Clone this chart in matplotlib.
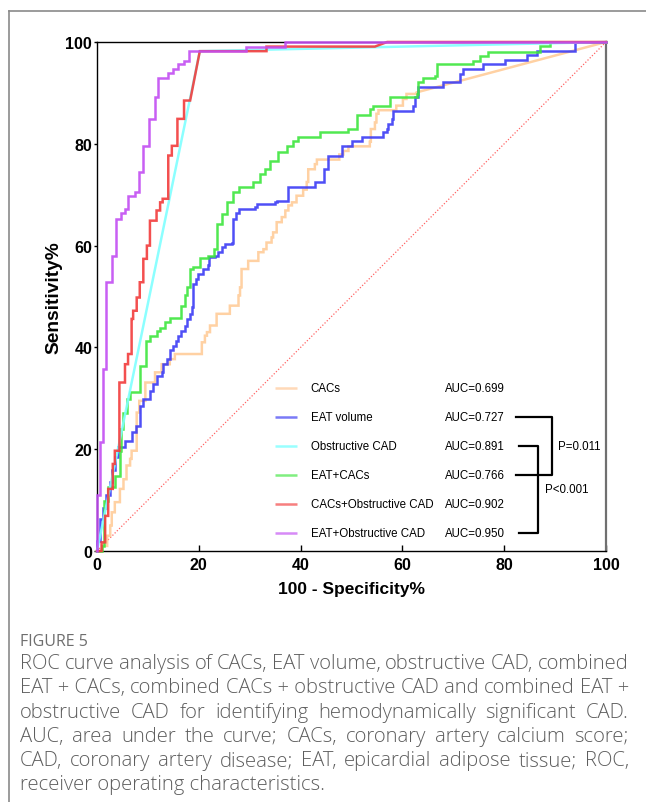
import matplotlib
matplotlib.use("Agg")
import matplotlib.pyplot as plt
from matplotlib.lines import Line2D

plt.rcParams['font.family'] = ['Liberation Sans', 'DejaVu Sans']

# ROC step points: (fpr, tpr) at the top of each vertical rise
cacs_fpr = [0, 1.0, 2.0, 2.6, 2.9, 3.5, 4.5, 5.2, 5.8, 6.5, 6.8, 7.8, 8.3, 9.5, 11.4, 12.7, 14.3, 15.3,
            20.6, 21.2, 21.6, 22.2, 23.5, 26.1, 27.8, 28.1, 28.4, 29.7, 31.7, 32.7, 33.3, 34.3, 34.6,
            35.3, 36.3, 37.0, 37.6, 38.3, 39.2, 40.5, 41.2, 41.5, 42.8, 43.2, 47.6, 48.4, 49.4, 53.6,
            53.8, 54.6, 54.9, 55.3, 58.8, 60.1, 60.8, 62.8]
cacs_tpr = [0, 1.0, 3.0, 5.0, 7.6, 9.6, 12.2, 14.1, 16.8, 18.1, 19.7, 27.2, 29.5, 33.1, 35.1, 36.7, 37.7, 38.7,
            41.0, 42.3, 43.0, 44.3, 46.6, 48.2, 50.2, 51.8, 55.4, 57.0, 58.7, 59.3, 60.6, 61.6, 62.6,
            64.6, 65.6, 66.9, 67.9, 68.5, 69.8, 71.0, 72.5, 75.0, 76.0, 76.9, 77.9, 78.6, 79.5, 80.4,
            82.9, 84.2, 85.9, 86.6, 87.5, 88.8, 89.8, 90.1]
cacs_tail_fpr = [100]
cacs_tail_tpr = [100]

eat_fpr = [0, 0, 0.6, 1.2, 1.8, 2.5, 3.0, 3.6, 4.2, 5.5, 6.8, 7.6, 8.4, 9.1, 10.4, 11.1, 11.7, 12.7, 13.0,
           13.7, 14.3, 15.0, 15.5, 16.0, 16.6, 17.3, 17.7, 18.3, 18.6, 18.9, 19.4, 19.9, 20.9, 21.9, 22.1,
           23.2, 23.8, 24.5, 25.1, 26.5, 26.8, 27.4, 27.8, 31.0, 31.4, 35.0, 35.3, 37.6, 42.8, 44.5, 45.4,
           48.1, 50.0, 52.0, 56.2, 56.9, 57.2, 57.9, 58.2, 62.1, 62.5, 63.1, 68.0, 71.3, 71.9, 75.9, 80.2,
           84.4, 86.4, 93.9, 100]
eat_tpr = [0, 2.0, 6.3, 8.5, 11.0, 13.5, 16.0, 18.5, 20.5, 21.7, 23.3, 24.6, 28.5, 29.9, 31.5, 32.8, 34.4,
           35.1, 36.7, 37.7, 39.4, 40.3, 41.3, 42.3, 43.3, 44.3, 45.6, 46.6, 47.9, 52.5, 53.4, 54.4, 55.4,
           56.1, 57.7, 58.0, 58.7, 59.7, 60.3, 60.6, 65.2, 66.5, 67.2, 67.5, 68.2, 68.5, 68.8, 71.5, 72.4,
           75.0, 77.7, 79.6, 80.6, 81.3, 82.3, 82.9, 83.9, 84.9, 86.5, 87.5, 89.1, 91.1, 92.1, 93.7, 94.7,
           95.7, 96.5, 97.4, 98.3, 100, 100]

obs_fpr = [0]
obs_tpr = [0]
obs_tail_fpr = [20.2, 100]
obs_tail_tpr = [98.2, 100]

eatcacs_fpr = [0, 0.9, 1.3, 2.2, 3.5, 4.5, 4.8, 5.2, 5.8, 6.5, 8.4, 9.6, 10.4, 11.7, 12.4, 13.4, 14.3, 16.6,
               17.2, 17.6, 18.3, 18.9, 20.2, 21.9, 22.9, 23.5, 24.5, 25.5, 26.8, 27.8, 30.7, 32.0, 33.0,
               34.0, 35.6, 37.3, 38.6, 39.5, 43.8, 49.4, 51.0, 53.6, 54.3, 57.6, 62.8, 63.1, 64.1, 66.4,
               66.8, 73.9, 75.2, 76.9, 87.0, 89.0, 100]
eatcacs_tpr = [0, 1.0, 9.9, 12.5, 14.8, 19.7, 24.0, 27.2, 29.9, 31.3, 36.4, 41.3, 42.3, 43.3, 43.9, 44.9, 45.7,
               48.2, 50.2, 51.8, 55.4, 55.7, 57.5, 58.0, 59.3, 64.2, 66.2, 68.5, 70.5, 71.5, 72.4, 74.1, 75.0,
               76.7, 78.3, 79.6, 80.6, 81.3, 82.3, 83.0, 85.7, 86.8, 87.5, 89.1, 89.8, 92.1, 92.9, 93.4,
               95.7, 96.3, 97.3, 98.1, 99.3, 100, 100]

cacsobs_fpr = [0, 0.9, 1.6, 2.2, 3.1, 3.5, 4.4, 5.5, 6.1, 6.8, 7.1, 7.8, 8.4, 9.1, 9.8, 10.4, 11.7, 12.4,
               12.9, 14.0, 14.7, 15.8, 17.1]
cacsobs_tpr = [0, 1.7, 6.9, 12.2, 17.1, 19.7, 33.1, 36.7, 38.7, 45.6, 47.2, 49.8, 52.8, 57.4, 60.0, 64.9,
               66.9, 68.5, 69.2, 77.7, 79.6, 84.9, 88.5]
cacsobs_tail_fpr = [18.3, 20.2, 33.3, 33.3, 54.6, 57.0, 100]
cacsobs_tail_tpr = [88.5, 98.2, 98.2, 99.1, 99.1, 100, 100]

eatobs_fpr = [0, 0, 0.6, 1.2, 1.8, 2.9, 3.7, 4.8, 5.5, 6.0, 7.5, 8.3, 9.1, 10.3, 11.4, 12.0, 14.0, 15.0,
              16.0, 17.0, 18.0, 29.3, 36.9, 100]
eatobs_tpr = [0, 11.0, 21.4, 35.8, 52.8, 58.0, 65.2, 66.5, 67.2, 69.8, 70.5, 74.4, 79.6, 84.9, 89.1, 92.9,
              94.0, 94.7, 95.7, 96.3, 98.2, 99.1, 100, 100]

names = ["CACs", "EAT volume", "Obstructive CAD", "EAT+CACs", "CACs+Obstructive CAD", "EAT+Obstructive CAD"]
aucs = [0.699, 0.727, 0.891, 0.766, 0.902, 0.950]
colors = ["#FFCC99", "#3C3CF5", "#80FFFF", "#3EE63E", "#F23C3C", "#C24DF2"]
legend_colors = ["#FFD9B8", "#7A7AF7", "#99FFFF", "#80EE80", "#F77F7F", "#D78AF7"]

caption_lines = [
    "ROC curve analysis of CACs, EAT volume, obstructive CAD, combined",
    "EAT\u00a0+\u00a0CACs, combined CACs\u00a0+\u00a0obstructive CAD and combined EAT\u00a0+",
    "obstructive CAD for identifying hemodynamically significant CAD.",
    "AUC, area under the curve; CACs, coronary artery calcium score;",
    "CAD, coronary artery disease; EAT, epicardial adipose tissue; ROC,",
    "receiver operating characteristics.",
]


def staircase(xs, ys):
    px, py = [xs[0]], [ys[0]]
    for x, y in zip(xs[1:], ys[1:]):
        px += [x, x]
        py += [py[-1], y]
    return px, py


fig = plt.figure(figsize=(6.46, 8.03), dpi=100)
W, H = 646, 803
ax = fig.add_axes([97 / W, 251 / H, 509 / W, 509 / H])

# chance line
ax.plot([0, 100], [0, 100], color="#FF6464", lw=0.9, ls=(0, (1, 1.5)), zorder=1)

curves = [
    (cacs_fpr, cacs_tpr, cacs_tail_fpr, cacs_tail_tpr),
    (eat_fpr, eat_tpr, [], []),
    (eatcacs_fpr, eatcacs_tpr, [], []),
    (obs_fpr, obs_tpr, obs_tail_fpr, obs_tail_tpr),
    (cacsobs_fpr, cacsobs_tpr, cacsobs_tail_fpr, cacsobs_tail_tpr),
    (eatobs_fpr, eatobs_tpr, [], []),
]
order = [0, 1, 3, 2, 4, 5]
for k, (fx, fy, tx, ty) in enumerate(curves):
    sx, sy = staircase(fx, fy)
    sx += tx
    sy += ty
    ax.plot(sx, sy, color=colors[order[k]], lw=1.8, alpha=0.9, clip_on=False,
            solid_joinstyle="miter", zorder=2 + k)

ax.set_xlim(0, 100)
ax.set_ylim(0, 100)
ticks = list(range(0, 101, 20))
ax.set_xticks(ticks)
ax.set_yticks(ticks)
ax.set_xticklabels([str(t) for t in ticks], fontweight="bold", fontsize=11.5)
ax.set_yticklabels([str(t) for t in ticks], fontweight="bold", fontsize=11.5)
ax.tick_params(axis="x", direction="in", length=4.5, width=1, pad=4)
ax.tick_params(axis="y", direction="out", length=2.5, width=1, pad=1)
for s in ["left", "bottom", "top"]:
    ax.spines[s].set_linewidth(1.0)
    ax.spines[s].set_color("black")
ax.spines["right"].set_linewidth(1.6)
ax.spines["right"].set_color("#707070")

ax.set_xlabel("100 - Specificity%", fontsize=12.5, fontweight="bold", labelpad=7)
ax.set_ylabel("Sensitivity%", fontsize=13.8, fontweight="bold", labelpad=2)

# legend
for i, (nm, auc) in enumerate(zip(names, aucs)):
    y = 32.0 - 5.7 * i
    ax.plot([35.0, 39.3], [y, y], color=legend_colors[i], lw=1.8, solid_capstyle="butt")
    ax.text(42.0, y, nm, fontsize=8.3, va="center", ha="left")
    ax.text(68.4, y, "AUC=%.3f" % auc, fontsize=8.3, va="center", ha="left")

# significance brackets
ax.plot([82.3, 89.4, 89.4, 82.3], [26.3, 26.3, 14.9, 14.9], color="black", lw=1.6, clip_on=False)
ax.plot([82.9, 86.6, 86.6, 82.9], [20.6, 20.6, 3.5, 3.5], color="black", lw=1.6, clip_on=False)
ax.text(90.6, 20.6, "P=0.011", fontsize=8.3, va="center", ha="left")
ax.text(88.0, 12.2, "P<0.001", fontsize=8.3, va="center", ha="left")

# page frame
fig.add_artist(Line2D([9 / W, 9 / W], [0, 1 - 12 / H], color="#8A8A8A", lw=1.2))
fig.add_artist(Line2D([9 / W, 1], [1 - 12 / H, 1 - 12 / H], color="#8A8A8A", lw=1.2))

# caption
cap_font = ["Open Sans", "DejaVu Sans"]
fig.text(20 / W, 1 - 646 / H, "FIGURE 5", fontsize=11.5, color="#6E6E6E",
         family=cap_font, va="baseline")

renderer = fig.canvas.get_renderer()
x0, x1 = 20 / W, 629 / W
for i, line in enumerate(caption_lines):
    yb = 1 - (669 + 24.3 * i) / H
    kw = dict(fontsize=14.6, color="#5E5E5E", family=cap_font, fontweight="light",
              va="baseline", ha="left")
    if i == len(caption_lines) - 1:
        fig.text(x0, yb, line, **kw)
        continue
    words = line.split(" ")
    widths = []
    for w in words:
        t = fig.text(0, 0, w, **kw)
        bb = t.get_window_extent(renderer)
        widths.append(bb.width / fig.bbox.width)
        t.remove()
    gap = (x1 - x0 - sum(widths)) / (len(words) - 1)
    x = x0
    for w, wd in zip(words, widths):
        fig.text(x, yb, w, **kw)
        x += wd + gap

fig.savefig("out.png", dpi=100)
